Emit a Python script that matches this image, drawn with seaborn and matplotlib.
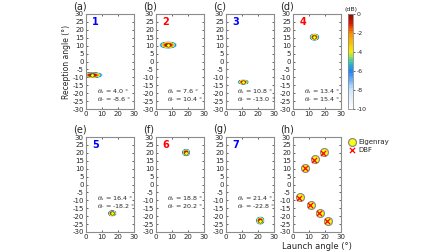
"""
Beam maps of launch/reception angle for seven eigenrays, plus a summary panel.
"""

import numpy as np
import pandas as pd
import matplotlib
matplotlib.use('Agg')
import matplotlib.pyplot as plt
from matplotlib.colors import LinearSegmentedColormap
import seaborn as sns

# Data
ray_ids = [1, 2, 3, 4, 5, 6, 7]
panel_tags = ['(a)', '(b)', '(c)', '(d)', '(e)', '(f)', '(g)']
launch_dbf = [4.0, 7.6, 10.8, 13.4, 16.4, 18.8, 21.4]
recept_dbf = [-8.6, 10.4, -13.0, 15.4, -18.2, 20.2, -22.8]
# -10 dB half widths of each beam spot (deg)
spot_wx = [6.5, 5.5, 3.4, 3.0, 2.6, 2.5, 2.6]
spot_wy = [1.9, 2.2, 1.5, 2.2, 1.9, 2.3, 2.5]
id_colors = ['blue', 'red', 'blue', 'red', 'blue', 'red', 'blue']
text_y = [-19, -19, -19, -19, -9, -9, -9]
launch_eig = [4.2, 7.8, 11.0, 13.8, 16.8, 19.4, 22.0]
recept_eig = [-8.2, 10.6, -12.8, 15.8, -17.8, 20.8, -23.2]

sns.set_style('ticks')
plt.rcParams['font.family'] = ['DejaVu Sans']
plt.rcParams['mathtext.fontset'] = 'dejavuserif'
plt.rcParams['axes.unicode_minus'] = False

cmap = LinearSegmentedColormap.from_list('wjet', [
    (0.00, (1.0, 1.0, 1.0)),
    (0.20, (0.80, 0.90, 1.0)),
    (0.40, (0.10, 0.50, 1.0)),
    (0.50, (0.20, 0.80, 0.70)),
    (0.60, (0.95, 0.95, 0.0)),
    (0.80, (1.0, 0.55, 0.0)),
    (0.90, (0.90, 0.10, 0.0)),
    (1.00, (0.55, 0.0, 0.0)),
])

fig = plt.figure(figsize=(4.48, 2.52), dpi=100)
W, H = 448, 252
col_left = [86, 156, 226, 293]
row_top = [14, 137]
aw, ah = 48, 95


def make_ax(r, c):
    ax = fig.add_axes([col_left[c] / W, 1 - (row_top[r] + ah) / H, aw / W, ah / H])
    ax.set_xlim(0, 30)
    ax.set_ylim(-30, 30)
    ax.set_xticks([0, 10, 20, 30])
    ax.set_yticks(np.arange(-30, 31, 5))
    ax.tick_params(labelsize=5, direction='in', length=1.5, width=0.5,
                   top=True, right=True, pad=1.5, colors='0.15')
    for s in ax.spines.values():
        s.set_color('0.55')
        s.set_linewidth(0.8)
    return ax


xg = np.linspace(0, 30, 301)
yg = np.linspace(-30, 30, 601)
X, Y = np.meshgrid(xg, yg)
levels = np.linspace(-10, 0, 41)

cf = None
for i in range(7):
    r, c = divmod(i, 4)
    ax = make_ax(r, c)
    Z = -10 * (((X - launch_dbf[i]) / spot_wx[i]) ** 2 + ((Y - recept_dbf[i]) / spot_wy[i]) ** 2)
    cf = ax.contourf(X, Y, Z, levels=levels, cmap=cmap, vmin=-10, vmax=0)
    ax.plot(launch_dbf[i], recept_dbf[i], 'o', ms=2.5, mfc='yellow', mec='0.3', mew=0.4)
    ax.text(4, 25, str(ray_ids[i]), color=id_colors[i], fontsize=7, fontweight='bold',
            ha='left', va='center')
    ax.text(7.0, text_y[i], r'$\theta_s$' + ' = %.1f °' % launch_dbf[i], fontsize=4.6, va='center')
    ax.text(7.0, text_y[i] - 5, r'$\theta_r$' + ' = %.1f °' % recept_dbf[i], fontsize=4.6, va='center')
    ax.text(-0.27, 1.03, panel_tags[i], transform=ax.transAxes, fontsize=7, ha='left', va='bottom')
    if i == 0:
        ax.set_ylabel('Reception angle (°)', fontsize=5.5, labelpad=1)

# Summary panel (h)
ax = make_ax(1, 3)
ax.text(-0.27, 1.03, '(h)', transform=ax.transAxes, fontsize=7, ha='left', va='bottom')
df_eig = pd.DataFrame({'launch': launch_eig, 'recept': recept_eig})
df_dbf = pd.DataFrame({'launch': launch_dbf, 'recept': recept_dbf})
sns.scatterplot(data=df_eig, x='launch', y='recept', ax=ax, s=32, color='yellow',
                edgecolor='0.55', linewidth=0.9, label='Eigenray', zorder=3)
sns.scatterplot(data=df_dbf, x='launch', y='recept', ax=ax, s=14, color='red',
                marker='x', linewidth=0.9, label='DBF', zorder=4)
ax.set_xlabel('Launch angle (°)', fontsize=6, labelpad=1.5)
ax.set_ylabel('')
ax.legend(loc='upper left', bbox_to_anchor=(1.05, 1.03), frameon=False, fontsize=5,
          handletextpad=0.2, labelspacing=0.3, borderpad=0.2, handlelength=1.2)

# Colorbar
cax = fig.add_axes([348 / W, 1 - 109 / H, 5 / W, 95 / H])
cb = fig.colorbar(cf, cax=cax, ticks=[0, -2, -4, -6, -8, -10])
cb.ax.tick_params(labelsize=4.5, length=1.5, width=0.5, pad=1)
cb.outline.set_edgecolor('0.55')
cb.outline.set_linewidth(0.6)
cax.text(0.5, 1.02, '(dB)', transform=cax.transAxes, fontsize=4.5, ha='center', va='bottom')

fig.savefig('out.png', dpi=100)
plt.close(fig)
